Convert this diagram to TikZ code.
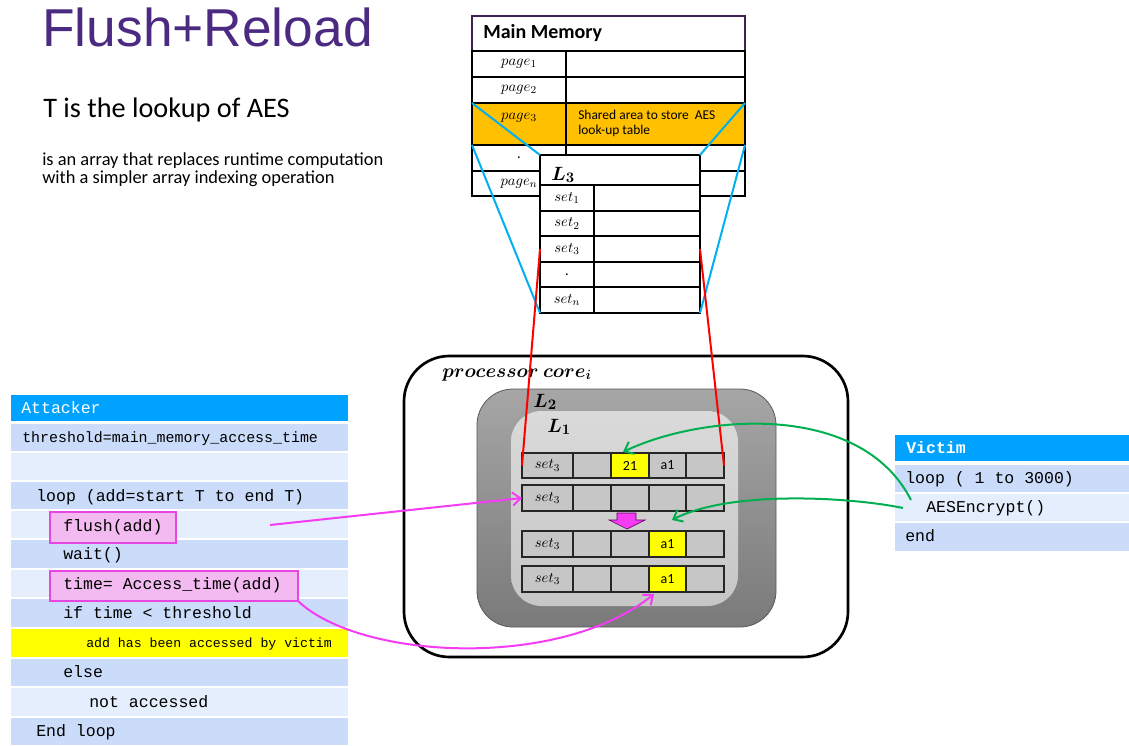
\documentclass[tikz,border=0pt]{standalone}
\usepackage{fontspec}
\usepackage{bm}
\setmainfont{Carlito}
\newfontfamily\arialfont{Liberation Sans}
\newfontfamily\codefont{Liberation Mono}
\usetikzlibrary{fit,arrows.meta}

\definecolor{titlepurple}{RGB}{75,42,130}
\definecolor{hdrpurple}{RGB}{64,32,80}
\definecolor{memorange}{RGB}{255,192,0}
\definecolor{linkblue}{RGB}{0,176,240}
\definecolor{hdrblue}{RGB}{0,162,255}
\definecolor{rowdark}{RGB}{202,220,250}
\definecolor{rowlight}{RGB}{228,238,252}
\definecolor{flowgreen}{RGB}{0,176,80}
\definecolor{flowpink}{RGB}{245,60,245}
\definecolor{pinkedge}{RGB}{230,70,225}
\definecolor{boxpink}{RGB}{242,186,240}
\definecolor{cellgray}{RGB}{198,198,198}
\definecolor{hlyellow}{RGB}{255,255,0}
\definecolor{ltop}{RGB}{218,218,218}
\definecolor{lbot}{RGB}{198,198,198}
\definecolor{ltwotop}{RGB}{166,166,166}
\definecolor{ltwobot}{RGB}{122,122,122}

\newcommand\fsz[1]{\fontsize{#1}{#1}\selectfont}

\begin{document}
\begin{tikzpicture}[x=0.75pt,y=-0.75pt,
  blk/.style={inner sep=0pt, outer sep=0pt},
  memcell/.style={blk, draw=black, line width=1.1pt},
  lonecell/.style={blk, draw=black!85, line width=1.2pt, fill=cellgray},
  hitcell/.style={lonecell, fill=hlyellow},
  mathlab/.style={inner sep=0pt, font=\fsz{11}},
  celltxt/.style={inner sep=0pt, font=\fsz{10.5}},
  rowD/.style={blk, fill=rowdark},
  rowL/.style={blk, fill=rowlight},
  code/.style={anchor=base west, inner sep=0pt, font=\codefont\fsz{12.4}},
  pinkbox/.style={blk, draw=pinkedge, fill=boxpink, line width=0.9pt},
  bluelink/.style={linkblue, line width=1.5pt},
  redlink/.style={red, line width=1.5pt},
  pinkarrow/.style={flowpink, line width=1.5pt, -{Straight Barb[length=6pt,width=10pt]}},
  greenarrow/.style={flowgreen, line width=1.5pt, -{Straight Barb[length=6pt,width=10pt]}},
  lab/.style={anchor=base west, inner sep=0pt}
]
\useasboundingbox (0,0) rectangle (1129,746);

% ---- heading and notes
\node[lab, font=\arialfont\fsz{40}, text=titlepurple] (title) at (42,46) {Flush+Reload};
\node[lab, font=\fsz{21.2}] (sub) at (43,117) {T is the lookup of AES};
\node[lab, font=\fsz{13.8}] (desc1) at (42,165) {is an array that replaces runtime computation};
\node[lab, font=\fsz{13.8}] (desc2) at (42,183) {with a simpler array indexing operation};

% ---- main memory table
\node[blk, draw=hdrpurple, line width=1.1pt, fill=white, fit={(472,16)(745,51)}] (mmhead) {};
\node[lab, font=\bfseries\fsz{15}] (mmtitle) at (483,38) {Main Memory};
\node[memcell, fit={(472,51)(566,77)}] (p1a) {};
\node[memcell, fit={(566,51)(745,77)}] (p1b) {};
\node[memcell, fit={(472,77)(566,103)}] (p2a) {};
\node[memcell, fit={(566,77)(745,103)}] (p2b) {};
\node[memcell, fill=memorange, fit={(472,103)(566,145)}] (p3a) {};
\node[memcell, fill=memorange, fit={(566,103)(745,145)}] (p3b) {};
\node[memcell, fit={(472,145)(566,171)}] (pda) {};
\node[memcell, fit={(566,145)(745,171)}] (pdb) {};
\node[memcell, fit={(472,171)(566,196)}] (pna) {};
\node[memcell, fit={(566,171)(745,196)}] (pnb) {};
\node[mathlab] (p1lab) at (p1a) {$page_1$};
\node[mathlab] (p2lab) at (p2a) {$page_2$};
\node[mathlab] (p3lab) at (519,118) {$page_3$};
\node[mathlab] (pdlab) at (pda) {.};
\node[mathlab] (pnlab) at (pna) {$page_n$};
\node[anchor=north west, align=left, inner sep=0pt, font=\fontsize{10.1}{11}\selectfont] (p3txt) at (578,110)
  {Shared area to store~~AES\\look-up table};

% ---- L3 cache table
\node[memcell, fill=white, fit={(540,155)(700,185)}] (l3head) {};
\node[lab, font=\fsz{15}] (l3lab) at (551,180) {$\bm{L_3}$};
\node[memcell, fill=white, fit={(540,185)(594,211)}] (s1a) {};
\node[memcell, fill=white, fit={(594,185)(700,211)}] (s1b) {};
\node[memcell, fill=white, fit={(540,211)(594,236)}] (s2a) {};
\node[memcell, fill=white, fit={(594,211)(700,236)}] (s2b) {};
\node[memcell, fill=white, fit={(540,236)(594,262)}] (s3a) {};
\node[memcell, fill=white, fit={(594,236)(700,262)}] (s3b) {};
\node[memcell, fill=white, fit={(540,262)(594,287)}] (sda) {};
\node[memcell, fill=white, fit={(594,262)(700,287)}] (sdb) {};
\node[memcell, fill=white, fit={(540,287)(594,313)}] (sna) {};
\node[memcell, fill=white, fit={(594,287)(700,313)}] (snb) {};
\node[mathlab] (s1lab) at (s1a) {$set_1$};
\node[mathlab] (s2lab) at (s2a) {$set_2$};
\node[mathlab] (s3lab) at (s3a) {$set_3$};
\node[mathlab] (sdlab) at (sda) {.};
\node[mathlab] (snlab) at (sna) {$set_n$};

% ---- page 3 is mapped onto the L3 table
\draw[bluelink] (p3a.north west) -- (l3head.north west);
\draw[bluelink] (p3b.north east) -- (l3head.north east);
\draw[bluelink] (p3a.south west) -- (sna.south west);
\draw[bluelink] (p3b.south east) -- (snb.south east);

% ---- processor core with L2 and L1
\node[blk, draw=black, line width=2pt, fill=white, rounded corners=34pt, fit={(404,356)(848,657)}] (core) {};
\node[lab, font=\fsz{14.8}] (corelab) at (442,377) {$\bm{processor\ core_i}$};
\node[blk, draw=black!65, line width=0.6pt, rounded corners=27pt, top color=ltwotop, bottom color=ltwobot, fit={(477,389)(776,627)}] (ltwo) {};
\node[lab, font=\fsz{15}] (ltwolab) at (533,407) {$\bm{L_2}$};
\node[blk, rounded corners=23pt, top color=ltop, bottom color=lbot, fit={(511,411)(738,606)}] (lone) {};
\node[lab, font=\fsz{15}] (lonelab) at (547,432) {$\bm{L_1}$};

% L1 lines: four snapshots of set 3
\node[lonecell, fit={(522,453)(573,478)}] (r1c1) {};
\node[lonecell, fit={(573,453)(611,478)}] (r1c2) {};
\node[hitcell,  fit={(611,453)(649,478)}] (r1c3) {};
\node[lonecell, fit={(649,453)(686,478)}] (r1c4) {};
\node[lonecell, fit={(686,453)(724,478)}] (r1c5) {};

\node[lonecell, fit={(522,485)(573,511)}] (r2c1) {};
\node[lonecell, fit={(573,485)(611,511)}] (r2c2) {};
\node[lonecell, fit={(611,485)(649,511)}] (r2c3) {};
\node[lonecell, fit={(649,485)(686,511)}] (r2c4) {};
\node[lonecell, fit={(686,485)(724,511)}] (r2c5) {};

\node[lonecell, fit={(522,531)(573,557)}] (r3c1) {};
\node[lonecell, fit={(573,531)(611,557)}] (r3c2) {};
\node[lonecell, fit={(611,531)(649,557)}] (r3c3) {};
\node[hitcell,  fit={(649,531)(686,557)}] (r3c4) {};
\node[lonecell, fit={(686,531)(724,557)}] (r3c5) {};

\node[lonecell, fit={(522,566)(573,592)}] (r4c1) {};
\node[lonecell, fit={(573,566)(611,592)}] (r4c2) {};
\node[lonecell, fit={(611,566)(649,592)}] (r4c3) {};
\node[hitcell,  fit={(649,566)(686,592)}] (r4c4) {};
\node[lonecell, fit={(686,566)(724,592)}] (r4c5) {};

\node[mathlab] (r1lab) at (r1c1) {$set_3$};
\node[mathlab] (r2lab) at (r2c1) {$set_3$};
\node[mathlab] (r3lab) at (r3c1) {$set_3$};
\node[mathlab] (r4lab) at (r4c1) {$set_3$};
\node[celltxt] (r1v3) at (r1c3) {21};
\node[celltxt] (r1v4) at (r1c4) {a1};
\node[celltxt] (r3v4) at (r3c4) {a1};
\node[celltxt] (r4v4) at (r4c4) {a1};

% block arrow between the flushed line and the reloaded line
\draw[fill=flowpink, draw=violet!80!black, line width=0.5pt]
  (617,513) -- (636,513) -- (636,520) -- (645,520) -- (627,529) -- (609,520) -- (617,520) -- cycle;

% L3 set 3 maps onto the L1 line
\draw[redlink] (s3a.west) -- (r1c1.west);
\draw[redlink] (s3b.east) -- (r1c5.east);

% ---- attacker code
\node[blk, fill=hdrblue, fit={(11,395)(348,421)}] (ahead) {};
\node[code, text=white] (atitle) at (21,413) {Attacker};
\node[rowD, fit={(11,424)(348,451)}] (ar1) {};
\node[rowL, fit={(11,453)(348,480)}] (ar2) {};
\node[rowD, fit={(11,482)(348,509)}] (ar3) {};
\node[rowL, fit={(11,511)(348,538)}] (ar4) {};
\node[rowD, fit={(11,540)(348,568)}] (ar5) {};
\node[rowL, fit={(11,570)(348,597)}] (ar6) {};
\node[rowD, fit={(11,599)(348,627)}] (ar7) {};
\node[blk, fill=hlyellow, fit={(11,629)(348,657)}] (ar8) {};
\node[rowD, fit={(11,659)(348,686)}] (ar9) {};
\node[rowL, fit={(11,688)(348,716)}] (ar10) {};
\node[rowD, fit={(11,718)(348,745)}] (ar11) {};
\node[pinkbox, fit={(50,512)(176,543)}] (flushbox) {};
\node[pinkbox, fit={(50,571)(298,601)}] (timebox) {};

\node[code, font=\codefont\fsz{11.2}] (a1t) at (22,442) {threshold=main\_memory\_access\_time};
\node[code] (a3t) at (36,501) {loop (add=start T to end T)};
\node[code] (a4t) at (63,531) {flush(add)};
\node[code] (a5t) at (63,559) {wait()};
\node[code] (a6t) at (63,589) {time= Access\_time(add)};
\node[code] (a7t) at (63,618) {if time < threshold};
\node[code, font=\codefont\fsz{9.9}] (a8t) at (86,647) {add has been accessed by victim};
\node[code] (a9t) at (63,677) {else};
\node[code] (a10t) at (89,707) {not accessed};
\node[code] (a11t) at (36,736) {End loop};

% ---- victim code
\node[blk, fill=hdrblue, fit={(895,435)(1129,461)}] (vhead) {};
\node[code, text=white, font=\codefont\bfseries\fsz{12.4}] (vtitle) at (906,453) {Victim};
\node[rowD, fit={(895,465)(1129,492)}] (vr1) {};
\node[rowL, fit={(895,494)(1129,521)}] (vr2) {};
\node[rowD, fit={(895,523)(1129,551)}] (vr3) {};
\node[code] (v1t) at (905,483) {loop ( 1 to 3000)};
\node[code] (v2t) at (926,512) {AESEncrypt()};
\node[code] (v3t) at (905,541) {end};

% ---- flows
\coordinate (flushsrc) at (270,525);
\coordinate (reloadhit) at (654,594);
\coordinate (vic1) at (911,500);
\coordinate (vic2) at (903,508);
\coordinate (loadpt) at (623,452);
\coordinate (fillpt) at (672,520);

\draw[pinkarrow] (flushsrc) -- (r2c1.west);
\draw[pinkarrow] (timebox.south east) .. controls (360,660) and (560,670) .. (reloadhit);
\draw[greenarrow] (vic1) .. controls (860,400) and (700,415) .. (loadpt);
\draw[greenarrow] (vic2) .. controls (850,497) and (730,490) .. (fillpt);
\end{tikzpicture}
\end{document}
